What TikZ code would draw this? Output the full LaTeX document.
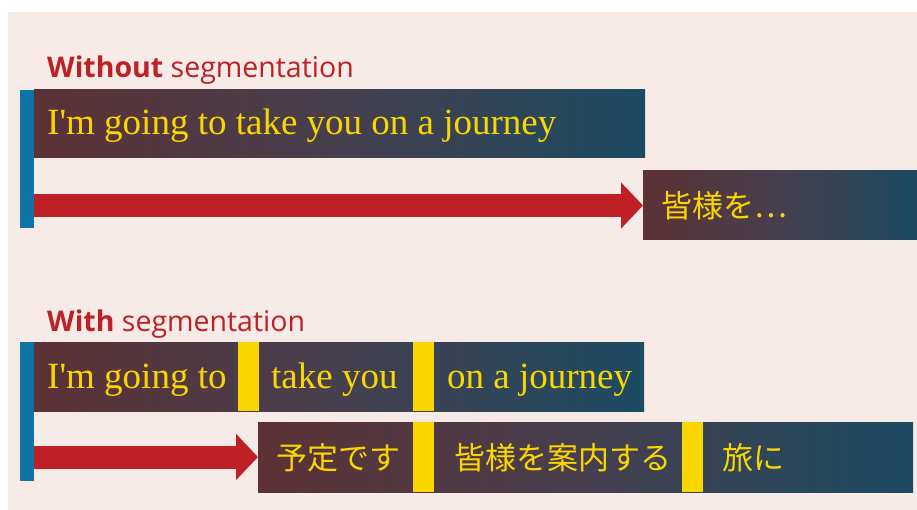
\documentclass[tikz,border=0pt]{standalone}
\usepackage{fontspec}
\newfontfamily\enfont{Liberation Serif}
\newfontfamily\cjk{Noto Sans CJK JP}
\newfontfamily\labfont{Open Sans}
\usetikzlibrary{arrows.meta}
\definecolor{bgc}{HTML}{F6EBE7}
\definecolor{redc}{HTML}{BE2026}
\definecolor{bluec}{HTML}{0E74A6}
\definecolor{yel}{HTML}{F9D600}
\definecolor{gl}{HTML}{5C3236}
\definecolor{gm}{HTML}{463F4E}
\definecolor{gr}{HTML}{1C4B62}
\tikzset{
  shadebox/.style={inner sep=0pt, outer sep=0pt, anchor=north west, left color=gl, right color=gr, middle color=gm, draw=none},
  sepbar/.style={fill=yel, inner sep=0pt, outer sep=0pt, anchor=north west, minimum width=21pt, draw=none},
  vbar/.style={fill=bluec, inner sep=0pt, outer sep=0pt, anchor=north west, minimum width=14pt, draw=none},
  en/.style={text=yel, font=\enfont\fontsize{37}{37}\selectfont, anchor=base west, inner sep=0pt},
  ja/.style={text=yel, font=\cjk\fontsize{31}{31}\selectfont, anchor=base west, inner sep=0pt},
  lab/.style={text=redc, font=\labfont\fontsize{28.5}{28.5}\selectfont, anchor=base west, inner sep=0pt},
  bigarrow/.style={draw=redc, line width=23pt, -{Triangle[length=22pt,width=45pt]}}
}
\begin{document}
\begin{tikzpicture}[x=1pt,y=-1pt]
\useasboundingbox (0,0) rectangle (917,510);
\fill[bgc] (8,12) rectangle (917,510);

% ---- Without segmentation ----
\node[lab] (lab1) at (47,78) {\textbf{Without} segmentation};
\node[vbar, minimum height=138pt] (bar1) at (20,90) {};
\node[shadebox, minimum width=611pt, minimum height=68pt] (src1) at (34,90) {};
\node[en] (t1) at (47,135) {I'm going to take you on a journey};
\node[shadebox, minimum width=274pt, minimum height=69pt] (tgt1) at (643,171) {};
\node[ja] (j1) at (661,218) {皆様を…};
\draw[bigarrow] (bar1.east |- tgt1.west) -- (tgt1.west);

% ---- With segmentation ----
\node[lab] (lab2) at (47,331) {\textbf{With} segmentation};
\node[vbar, minimum height=139pt] (bar2) at (20,342) {};
\node[shadebox, minimum width=610pt, minimum height=69pt] (src2) at (34,342) {};
\node[sepbar, minimum height=69pt] (ys1) at (238,342) {};
\node[sepbar, minimum height=69pt] (ys2) at (413,342) {};
\node[en] (s1) at (47,388) {I'm going to};
\node[en] (s2) at (271,388) {take you};
\node[en] (s3) at (447,388) {on a journey};

\node[shadebox, minimum width=655pt, minimum height=70pt] (tgt2) at (258,422) {};
\node[sepbar, minimum height=70pt] (ys3) at (413,422) {};
\node[sepbar, minimum height=70pt] (ys4) at (682,422) {};
\node[ja] (k1) at (276,469.5) {予定です};
\node[ja] (k2) at (454,469.5) {皆様を案内する};
\node[ja] (k3) at (722,469.5) {旅に};
\draw[bigarrow] (bar2.east |- tgt2.west) -- (tgt2.west);
\end{tikzpicture}
\end{document}
